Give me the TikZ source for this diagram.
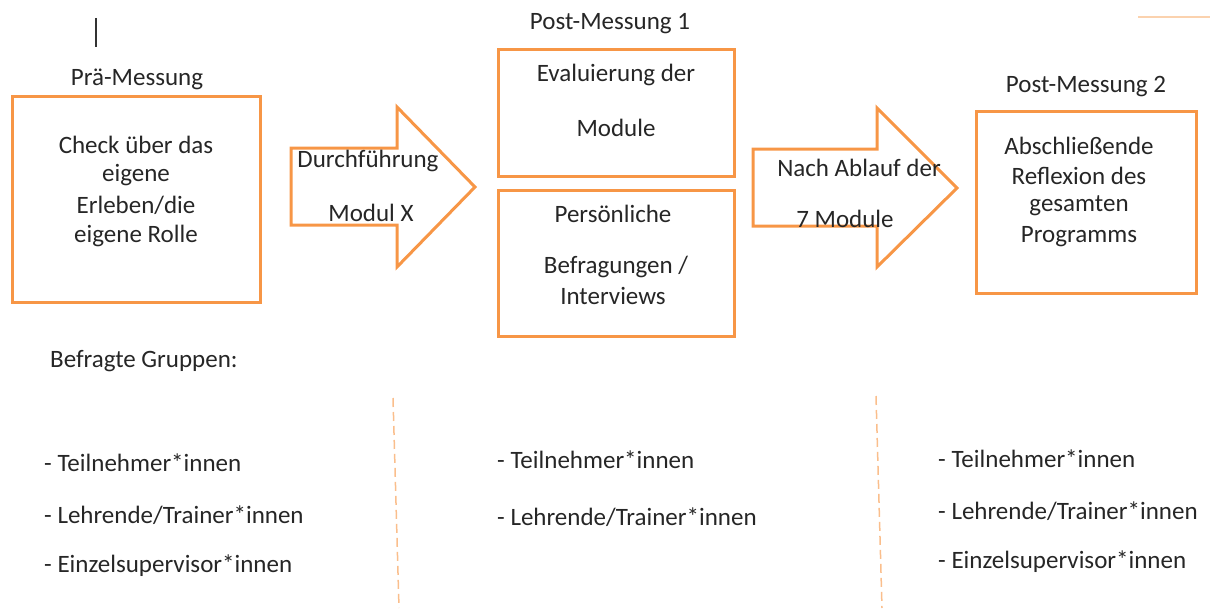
\documentclass[tikz,border=0pt]{standalone}
\usepackage{fontspec}
\setmainfont{Carlito}
\definecolor{accent}{RGB}{247,150,70}
\definecolor{paleaccent}{RGB}{250,190,140}

\begin{document}
\begin{tikzpicture}[x=1pt,y=-1pt,
  txt/.style={font=\fontsize{25}{30}\selectfont, text=black!85, inner sep=0pt},
  frame/.style={draw=accent, line width=3pt},
  guide/.style={draw=paleaccent, line width=1.5pt, dash pattern=on 9pt off 5pt}]
\useasboundingbox (0,0) rectangle (1210,610);
% small marks at the top
\draw[line width=1.2pt, black!80] (96,18) -- (96,47);
\draw[line width=2pt, paleaccent!70] (1138,17) -- (1210,17);
% Pre-Messung
\node[txt] (prehead) at (137,79) {Prä-Messung};
\draw[frame] (12,96) rectangle (260,302);
\node[txt] (pre1) at (136,145) {Check über das};
\node[txt] (pre2) at (136,175) {eigene};
\node[txt] (pre3) at (136,205) {Erleben/die};
\node[txt] (pre4) at (136,236) {eigene Rolle};
% first arrow
\draw[frame, line join=miter] (291,148) -- (397,148) -- (397,107) -- (475,187) -- (397,267) -- (397,225) -- (291,225) -- cycle;
\node[txt] (arrA1) at (368,161) {Durchführung};
\node[txt] (arrA2) at (371,213) {Modul X};
% Post-Messung 1
\node[txt] (posthead1) at (610,24) {Post-Messung 1};
\draw[frame] (498,50) rectangle (734,176);
\node[txt] (eval1) at (616,75) {Evaluierung der};
\node[txt] (eval2) at (616,128) {Module};
\draw[frame] (498,190) rectangle (734,336);
\node[txt] (intv1) at (613,214) {Persönliche};
\node[txt] (intv2) at (616,267) {Befragungen /};
\node[txt] (intv3) at (613,296) {Interviews};
% second arrow
\draw[frame, line join=miter] (753,149) -- (877,149) -- (877,108) -- (957,188) -- (877,267) -- (877,226) -- (753,226) -- cycle;
\node[txt] (arrB1) at (859,168) {Nach Ablauf der};
\node[txt] (arrB2) at (845,219) {7 Module};
% Post-Messung 2
\node[txt] (posthead2) at (1086,87) {Post-Messung 2};
\draw[frame] (976,111) rectangle (1196,293);
\node[txt] (refl1) at (1079,146) {Abschließende};
\node[txt] (refl2) at (1079,176) {Reflexion des};
\node[txt] (refl3) at (1079,206) {gesamten};
\node[txt] (refl4) at (1079,237) {Programms};
% groups
\node[txt, anchor=west] (groups) at (50,361) {Befragte Gruppen:};
\draw[guide] (393,398) -- (399,608);
\draw[guide] (876,396) -- (882,608);
\node[txt, anchor=west] (grpL1) at (44,463) {- Teilnehmer*innen};
\node[txt, anchor=west] (grpL2) at (44,515) {- Lehrende/Trainer*innen};
\node[txt, anchor=west] (grpL3) at (44,566) {- Einzelsupervisor*innen};
\node[txt, anchor=west] (grpM1) at (497,460) {- Teilnehmer*innen};
\node[txt, anchor=west] (grpM2) at (497,517) {- Lehrende/Trainer*innen};
\node[txt, anchor=west] (grpR1) at (938,459) {- Teilnehmer*innen};
\node[txt, anchor=west] (grpR2) at (938,511) {- Lehrende/Trainer*innen};
\node[txt, anchor=west] (grpR3) at (938,562) {- Einzelsupervisor*innen};
\end{tikzpicture}
\end{document}
